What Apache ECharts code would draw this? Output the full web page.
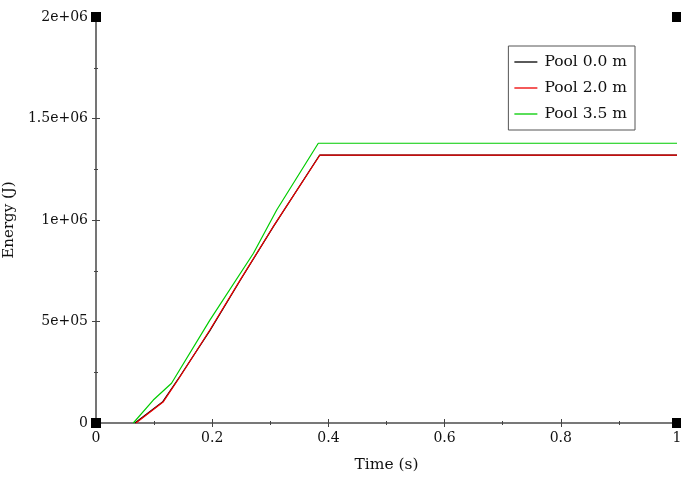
<!DOCTYPE html>
<html><head><meta charset="utf-8">
<script src="https://cdn.jsdelivr.net/npm/echarts@6/dist/echarts.min.js"></script>
<style>html,body{margin:0;padding:0;background:#fff}#c{width:681px;height:477px}</style>
</head><body><div id="c"></div>
<script>
var seriesNames = ['Pool 0.0 m', 'Pool 2.0 m', 'Pool 3.5 m'];
var pool00 = [[0.067,0],[0.115,0.105e6],[0.144,0.228e6],[0.196,0.455e6],[0.248,0.702e6],[0.305,0.966e6],[0.385,1.32e6],[1.0,1.32e6]];
var pool20 = [[0.0688,0],[0.116,0.105e6],[0.1446,0.228e6],[0.196,0.458e6],[0.248,0.704e6],[0.305,0.967e6],[0.3855,1.32e6],[1.0,1.32e6]];
var pool35 = [[0.0642,0],[0.0986,0.113e6],[0.130,0.196e6],[0.196,0.507e6],[0.271,0.836e6],[0.311,1.049e6],[0.3826,1.378e6],[1.0,1.378e6]];
var corners = [[0,0],[1,0],[0,2e6],[1,2e6]];
var colors = ['#000000', '#ee0000', '#00cc00'];
var FONT = 'DejaVu Serif';

function yFmt(v){
  if (v === 0) return '0';
  var e = Math.floor(Math.log10(v));
  var m = v / Math.pow(10, e);
  var ms = (Math.round(m*10)/10).toString();
  var es = (e < 10 ? '0' : '') + e;
  return ms + 'e+' + es;
}

var chart = echarts.init(document.getElementById('c'));
var axisLine = {show:true, lineStyle:{color:'#707070', width:1.6}};
var tick = {show:true, inside:true, length:4, lineStyle:{color:'#444', width:1}};
var minor = {show:true, splitNumber:2, length:2, lineStyle:{color:'#444', width:1}};
chart.setOption({
  animation:false,
  textStyle:{fontFamily:FONT},
  grid:{left:96, right:4, top:17, bottom:54, outerBoundsMode:'none', containLabel:false},
  legend:{
    orient:'vertical', right:46, top:46,
    data:seriesNames,
    icon:'rect',
    itemWidth:23, itemHeight:1.3, itemGap:10,
    padding:[8,8,8,6],
    borderColor:'#555', borderWidth:1, backgroundColor:'#fff',
    textStyle:{fontFamily:FONT, fontSize:15.5, lineHeight:16, height:16, color:'#111', padding:[0,0,0,2]}
  },
  xAxis:[{
    type:'value', min:0, max:1, interval:0.2, position:'bottom',
    name:'Time (s)', nameLocation:'middle', nameGap:34,
    nameTextStyle:{fontFamily:FONT, fontSize:15.5, color:'#111'},
    axisLine:axisLine, axisTick:tick, minorTick:minor, splitLine:{show:false},
    axisLabel:{fontFamily:FONT, fontSize:14, color:'#111', margin:8}
  },{
    type:'value', min:0, max:1, interval:0.2, position:'top',
    axisLine:axisLine, axisTick:tick, minorTick:minor, splitLine:{show:false},
    axisLabel:{show:false}
  }],
  yAxis:[{
    type:'value', min:0, max:2e6, interval:5e5, position:'left',
    name:'Energy (J)', nameLocation:'middle', nameGap:66,
    nameTextStyle:{fontFamily:FONT, fontSize:15, color:'#111'},
    axisLine:axisLine, axisTick:tick, minorTick:minor, splitLine:{show:false},
    axisLabel:{fontFamily:FONT, fontSize:14, color:'#111', margin:8, formatter:yFmt}
  },{
    type:'value', min:0, max:2e6, interval:5e5, position:'right',
    axisLine:axisLine, axisTick:tick, minorTick:minor, splitLine:{show:false},
    axisLabel:{show:false}
  }],
  series:[
    {name:seriesNames[0], type:'line', data:pool00, symbol:'none', color:colors[0], lineStyle:{width:1.2, color:colors[0]}, z:2},
    {name:seriesNames[1], type:'line', data:pool20, symbol:'none', color:colors[1], lineStyle:{width:1.2, color:colors[1]}, z:3},
    {name:seriesNames[2], type:'line', data:pool35, symbol:'none', color:colors[2], lineStyle:{width:1.2, color:colors[2]}, z:4},
    {type:'scatter', data:corners, symbol:'rect', symbolSize:10, itemStyle:{color:'#000', opacity:1}, clip:false, z:10, silent:true}
  ]
});
</script></body></html>
